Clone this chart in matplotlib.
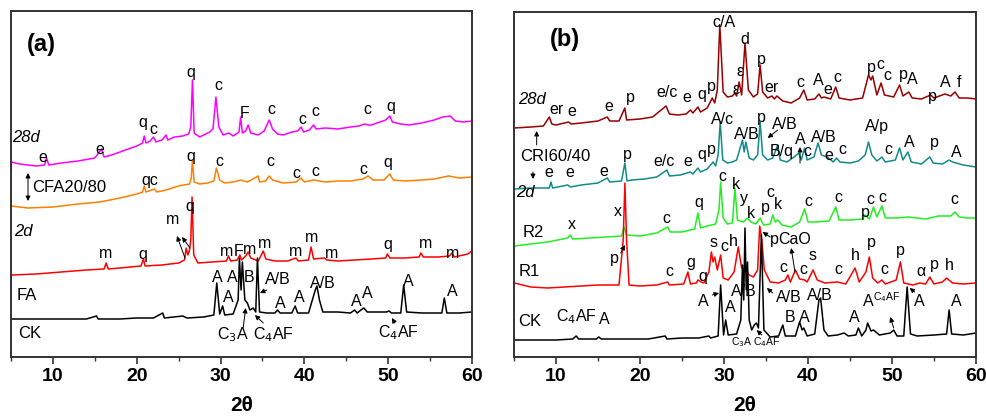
import matplotlib.pyplot as plt
from matplotlib.ticker import MultipleLocator

plt.rcParams['font.family'] = ['Liberation Sans', 'DejaVu Sans']

# ---------------- panel (a) patterns: 2theta / intensity (a.u., stacked) ----------------
tt_28d = [5.0, 5.05, 6, 7, 8, 9, 9.25, 9.5, 11, 13, 15, 15.8, 16.1, 17, 18, 19, 20, 20.7, 20.9, 21.1,
          21.6, 22.0, 22.3, 23, 23.5, 23.7, 24.5, 25.5, 26.2, 26.45, 26.65, 26.85, 27.5, 28, 28.7, 29.1,
          29.45, 29.8, 30.3, 31, 31.5, 32.2, 32.4, 32.6, 33.0, 33.3, 33.6, 34.5, 35.2, 35.8, 36.2, 36.8,
          37.5, 38.5, 39.2, 39.6, 39.9, 40.6, 41.1, 41.4, 42.5, 44, 45.5, 46.5, 47.2, 47.6, 48, 49, 49.7,
          50.2, 50.5, 51.5, 52.5, 54, 55.5, 56.5, 57.4, 58, 59, 60]
int_28d = [175, 198, 196, 195, 194, 195, 202, 195, 197, 199, 202, 211, 203, 205, 208, 211, 214, 217, 224, 217,
           219, 223, 218, 220, 225, 220, 223, 224, 226, 233, 280, 227, 223, 225, 228, 231,
           263, 233, 225, 227, 224, 228, 243, 227, 229, 235, 227, 225, 229, 240, 231, 226,
           225, 228, 229, 233, 228, 230, 235, 231, 232, 231, 233, 234, 236, 235, 235, 238, 240,
           244, 238, 236, 235, 237, 240, 243, 244, 239, 238, 239]

tt_cfa = [5.0, 5.05, 7, 10, 13, 15.6, 18, 20, 20.7, 20.9, 21.1, 22.1, 22.4, 23.5, 25, 26.3, 26.5, 26.65,
          26.85, 27.5, 28.5, 29.2, 29.5, 29.9, 30.5, 31.5, 32.4, 33.2, 34.5, 34.65, 35.4, 35.8, 36.2,
          37.5, 39.0, 39.6, 40.0, 41.1, 42.5, 44, 45.5, 47.0, 47.6, 48.2, 49.5, 50.2, 50.6, 52, 54,
          55.5, 57.2, 58.5, 60]
int_cfa = [146, 154, 152, 153, 156, 158, 162, 166, 168, 174, 168, 171, 168, 170, 174, 176, 182, 200,
           178, 176, 177, 179, 192, 180, 177, 178, 180, 178, 184, 178, 179, 184, 180,
           177, 178, 182, 178, 180, 178, 179, 179, 181, 184, 180, 180, 186, 180, 179, 180,
           181, 184, 182, 183]

tt_2d = [5.0, 5.05, 8, 11, 14, 16.1, 16.35, 16.6, 18, 20.5, 20.8, 21.0, 23, 25, 25.7, 25.9, 26.1, 26.3,
         26.45, 26.6, 26.8, 27.3, 29, 30.7, 30.95, 31.2, 32.0, 32.3, 32.5, 33.0, 33.3, 33.6, 34.5, 35.1,
         35.4, 36.5, 38, 39.0, 39.3, 40.5, 40.8, 41.1, 42.4, 42.7, 44, 46, 48, 49.7, 49.9, 50.2, 52,
         53.7, 53.9, 54.2, 56, 57.3, 57.6, 57.9, 59.5, 60]
int_2d = [77, 85, 86, 88, 90, 91, 97, 91, 92, 94, 101, 94, 95, 97, 100, 112, 105, 110,
          120, 163, 105, 97, 98, 99, 104, 99, 100, 105, 100, 104, 108, 102, 99, 109,
          101, 99, 99, 102, 99, 100, 113, 101, 102, 100, 99, 100, 101, 102, 106, 102, 102,
          103, 107, 103, 103, 104, 107, 103, 106, 109]

tt_fa = [5.0, 10, 14, 15.2, 15.4, 18, 20, 22, 23.1, 23.3, 25.5, 26, 28, 29.2, 29.55, 29.9, 30.25, 30.5,
         31.5, 32.1, 32.25, 32.45, 32.6, 32.9, 33.2, 33.5, 33.9, 34.2, 34.4, 34.65, 35.5, 36.5, 36.8,
         37.1, 38.5, 38.9, 39.2, 40.5, 41.3, 41.5, 41.8, 42.2, 44, 45.5, 46.0, 46.3, 46.9, 47.1, 47.5,
         49.8, 50.1, 50.4, 51.5, 51.85, 52.2, 54, 56.4, 56.7, 57.0, 58.5, 60]
int_fa = [41, 41, 41, 44, 41, 41, 42, 42, 47, 42, 44, 42, 43, 45, 77, 46, 54, 45,
          46, 60, 102, 70, 98, 60, 57, 50, 52, 48, 102, 48, 47, 47, 50,
          47, 47, 54, 47, 47, 70, 74, 60, 48, 48, 47, 50, 47, 51, 52, 48,
          48, 49, 47, 47, 75, 48, 47, 47, 62, 47, 47, 48]

# ---------------- panel (b) patterns ----------------
tt_b28 = [5.0, 7, 8.5, 9.2, 9.5, 10, 11.5, 11.8, 13, 15, 16.1, 16.4, 17.5, 18.2, 18.4, 20, 21.5, 23.1,
          23.5, 24.5, 25.5, 26.0, 26.3, 26.9, 27.2, 28.0, 28.6, 28.9, 29.2, 29.5, 29.9, 30.4, 31.0,
          31.3, 31.5, 31.8, 32.1, 32.5, 32.9, 33.5, 34.0, 34.3, 34.6, 35.2, 35.7, 36.0, 36.3, 37, 38,
          39.0, 39.5, 39.9, 40.8, 41.3, 41.6, 41.9, 42.7, 43.3, 43.7, 45, 46.5, 47.2, 47.5, 47.7, 48.2,
          48.7, 49.1, 50.2, 50.9, 51.3, 52.0, 52.4, 53.5, 54.6, 55, 56.3, 57.0, 57.5, 58, 59, 60]
int_b28 = [232, 233, 234, 243, 236, 235, 238, 236, 237, 239, 243, 239, 239, 252, 240, 241, 243, 254,
           246, 245, 246, 250, 247, 253, 248, 252, 262, 257, 270, 335, 268, 263, 264,
           267, 264, 278, 265, 317, 270, 263, 266, 295, 268, 262, 264, 261, 264, 259, 257,
           262, 270, 260, 261, 266, 262, 263, 261, 273, 262, 260, 262, 285, 280, 284, 265,
           277, 265, 263, 275, 264, 268, 262, 261, 265, 262, 266, 264, 268, 262, 262, 261]

tt_cri = [5.0, 5.05, 7, 9.2, 9.4, 9.6, 11.4, 11.7, 13, 15, 16.1, 16.4, 17.8, 18.2, 18.45, 19, 20.5, 22,
          23.2, 23.5, 24.8, 26.0, 26.3, 26.9, 27.2, 28.0, 28.7, 29.0, 29.3, 29.55, 29.85, 30.4, 31.0,
          31.5, 32.2, 32.4, 32.6, 33.0, 33.5, 34.0, 34.3, 34.6, 35.2, 35.8, 36.4, 36.7, 37.5, 38.5,
          38.9, 39.2, 39.6, 39.9, 40.7, 41.2, 41.6, 42.3, 43.0, 43.4, 43.8, 45, 46, 46.8, 47.2, 47.6,
          48.2, 48.8, 49.2, 50.4, 50.9, 51.3, 51.9, 52.3, 53.5, 54.5, 54.9, 56, 56.8, 57.2, 58.5, 60]
int_cri = [164, 171, 172, 172, 178, 172, 175, 173, 175, 177, 182, 178, 179, 197, 179, 180, 181, 183,
           190, 184, 185, 188, 186, 192, 188, 191, 198, 194, 205, 238, 200, 197, 198,
           200, 220, 208, 218, 202, 200, 205, 238, 205, 200, 202, 215, 200, 198, 204,
           207, 200, 212, 200, 203, 217, 205, 203, 198, 202, 198, 197, 199, 205, 218, 205,
           199, 203, 198, 200, 212, 200, 208, 198, 196, 203, 197, 196, 200, 198, 195, 193]

tt_r2 = [5.0, 5.05, 7, 9, 11.4, 11.7, 12.0, 14, 16, 17.8, 18.1, 18.4, 20, 22, 23.3, 23.6, 25, 26.5, 26.9,
         27.2, 28, 29, 29.4, 29.6, 29.9, 30.4, 31.0, 31.3, 31.6, 32.3, 32.8, 33.2, 33.8, 34.3, 34.7,
         35.5, 35.8, 36.1, 36.4, 36.9, 38, 39.0, 39.6, 40.0, 41, 42.5, 43.3, 43.7, 45, 46.5, 46.8, 47.3,
         47.8, 48.2, 48.8, 49.2, 50.5, 52, 54, 55.5, 57.0, 57.5, 58, 59, 60]
int_r2 = [108, 114, 116, 118, 122, 125, 121, 122, 123, 124, 133, 125, 124, 127, 133, 128, 128, 131, 147,
          132, 134, 136, 150, 178, 142, 136, 137, 172, 140, 138, 142, 138, 136, 142, 135,
          136, 145, 138, 140, 135, 133, 138, 151, 138, 138, 139, 153, 140, 140, 141, 145, 141,
          153, 143, 154, 142, 142, 143, 141, 144, 144, 148, 143, 142, 142]

tt_r1 = [5.0, 5.05, 7, 9, 11, 13, 15, 17.5, 18.0, 18.2, 18.4, 18.7, 20, 22, 23.3, 23.5, 25.2, 25.7, 26.0,
         26.7, 26.9, 27.3, 27.6, 28.2, 28.5, 28.7, 28.9, 29.2, 29.6, 29.9, 30.5, 31.2, 31.7, 32.1, 32.5,
         33.0, 33.5, 34.0, 34.25, 34.5, 34.8, 35.5, 36.5, 37.3, 37.6, 37.9, 38.5, 39.0, 39.6, 39.9,
         40.6, 41.1, 42, 43.5, 44.5, 45.6, 46.1, 46.9, 47.3, 47.7, 48.3, 48.8, 49.2, 50.5, 51.0, 51.4,
         52.5, 53.3, 54.0, 54.5, 55.0, 56.0, 56.5, 57.2, 58.5, 60]
int_r1 = [68, 77, 73, 72, 73, 74, 75, 75, 120, 177, 120, 75, 74, 75, 78, 75, 76, 88, 76,
          77, 80, 78, 77, 88, 108, 98, 103, 90, 105, 82, 80, 88, 113, 92, 90,
          85, 83, 90, 134, 120, 90, 78, 77, 80, 85, 78, 90, 81, 80, 78,
          90, 80, 77, 78, 76, 92, 78, 88, 103, 82, 77, 80, 76, 80, 98, 77,
          75, 77, 76, 83, 76, 78, 82, 77, 76, 77]

tt_ck = [5.0, 5.05, 8, 10, 12.0, 12.4, 12.7, 14.8, 15.1, 15.4, 18, 21, 23.0, 23.2, 25, 27, 28.2, 28.4,
         29.3, 29.6, 29.95, 30.2, 30.5, 31.5, 32.0, 32.2, 32.35, 32.5, 32.65, 32.8, 33.0, 33.3, 33.6,
         33.85, 34.1, 34.45, 34.75, 35.5, 36.5, 37.0, 37.3, 38.5, 39.0, 39.3, 39.5, 39.9, 40.8, 41.3,
         41.5, 41.9, 42.4, 43.5, 44.3, 44.8, 45.7, 46.0, 46.4, 46.9, 47.1, 47.5, 47.8, 48.5, 49.8,
         50.2, 50.6, 51.4, 51.8, 52.2, 53, 55, 56.5, 56.8, 57.1, 58.5, 60]
int_ck = [28, 20, 20, 20, 21, 24, 21, 21, 23, 21, 21, 21, 24, 21, 22, 22, 24, 22,
          24, 75, 25, 40, 25, 26, 40, 95, 60, 132, 70, 98, 40, 30, 35,
          37, 32, 125, 30, 23, 24, 35, 24, 24, 38, 30, 32, 24, 26, 60,
          62, 30, 24, 25, 27, 24, 25, 32, 24, 30, 37, 29, 30, 25, 27,
          30, 24, 24, 73, 26, 24, 25, 26, 50, 26, 25, 27]

# ---------------- peak / phase labels (text, 2theta, intensity) ----------------
labels_a = [
    ('q', 20.75, 238), ('c', 21.94, 230), ('q', 26.47, 287), ('c', 29.7, 274), ('F', 32.9, 247),
    ('c', 36.1, 250), ('c', 39.8, 240), ('c', 41.3, 248), ('c', 47.5, 250), ('q', 50.3, 253),
    ('e', 8.8, 202), ('e', 15.6, 211),
    ('qc', 21.6, 180), ('q', 26.5, 203), ('c', 29.9, 198), ('c', 35.9, 198), ('c', 39.1, 187),
    ('c', 41.3, 188), ('c', 47.0, 190), ('q', 49.9, 197),
    ('m', 16.3, 107), ('q', 20.75, 106), ('m', 24.3, 141), ('q', 26.36, 153), ('m', 30.7, 108),
    ('F', 32.1, 108), ('m', 33.5, 111), ('m', 35.3, 116), ('m', 38.9, 108), ('m', 40.9, 123),
    ('m', 43.2, 107), ('q', 50.0, 115), ('m', 54.4, 117), ('m', 57.7, 107),
    ('A', 29.6, 82), ('A', 31.4, 82), ('B', 33.4, 82), ('A', 30.9, 62), ('A/B', 36.85, 81),
    ('A', 37.1, 57), ('A', 39.4, 62), ('A/B', 42.2, 77), ('A', 46.2, 58), ('A', 47.5, 66),
    ('A', 52.4, 78), ('A', 57.6, 68),
    ('C$_3$A', 31.5, 25), ('C$_4$AF', 36.3, 25), ('C$_4$AF', 51.2, 27),
]
arrows_a = [((25.76, 102), (24.8, 124)), ((26.36, 112), (25.4, 123)),
            ((32.7, 32), (33.0, 52)), ((35.1, 37), (34.1, 45)),
            ((35.5, 70), (34.7, 67)), ((50.8, 37), (50.45, 42))]

labels_b = [
    ('c/A', 30.0, 337), ('d', 32.5, 320), ('p', 34.5, 300), ('ε', 31.9, 288), ('ε', 31.4, 270),
    ('er', 10.1, 250), ('e', 11.9, 248), ('e', 16.3, 253), ('p', 18.8, 262), ('e/c', 23.2, 267),
    ('e', 25.6, 262), ('q', 27.4, 265), ('p', 28.45, 273), ('er', 35.7, 272), ('c', 39.05, 277),
    ('A', 41.2, 279), ('e', 42.3, 270), ('c', 43.45, 282), ('p', 47.5, 292), ('c', 48.6, 295),
    ('c', 49.4, 284), ('p', 51.4, 285), ('A', 52.4, 280), ('p', 54.8, 263), ('A', 56.3, 277),
    ('f', 58.0, 277),
    ('A/c', 29.8, 240), ('p', 34.5, 242), ('A/B', 32.7, 225), ('A/B', 37.3, 235), ('B/q', 36.9, 208),
    ('A', 39.05, 220), ('c', 39.9, 208), ('A/B', 41.9, 222), ('e', 42.5, 204), ('c', 44.05, 210),
    ('A/p', 48.2, 233), ('c', 49.6, 210), ('A', 52.1, 217), ('p', 55.1, 217), ('A', 57.7, 207),
    ('e', 9.2, 187), ('e', 11.7, 187), ('e', 15.7, 188), ('p', 18.45, 205), ('e/c', 22.9, 198),
    ('e', 25.7, 198), ('q', 27.3, 205), ('p', 28.45, 210),
    ('c', 29.8, 183), ('k', 31.4, 175), ('y', 32.4, 161), ('k', 33.2, 146), ('p', 34.9, 152),
    ('c', 35.5, 167), ('k', 36.4, 155), ('x', 11.9, 135), ('x', 17.4, 148), ('c', 23.1, 141),
    ('q', 27.0, 157), ('c', 40.1, 158), ('c', 43.6, 162), ('p', 46.8, 147), ('c', 47.4, 160),
    ('c', 48.9, 162), ('c', 57.4, 160),
    ('p', 16.9, 102), ('s', 28.8, 117), ('c', 30.0, 113), ('h', 31.1, 118), ('p', 36.0, 120),
    ('CaO', 38.45, 120), ('g', 26.0, 98), ('q', 27.5, 84), ('c', 23.45, 88), ('c', 37.1, 92),
    ('c', 39.5, 90), ('s', 40.5, 105), ('c', 43.6, 90), ('h', 45.6, 105), ('p', 47.5, 117),
    ('c', 49.05, 91), ('p', 51.0, 110), ('α', 53.45, 88), ('p', 55.0, 95), ('h', 56.8, 95),
    ('A', 27.5, 58), ('A', 30.7, 52), ('A/B', 32.4, 68), ('A/B', 37.7, 62), ('B', 37.9, 43),
    ('A', 39.6, 42), ('A/B', 41.4, 65), ('A', 45.5, 43), ('A', 47.2, 58), ('A', 53.2, 58),
    ('A', 57.7, 58), ('C$_4$AF', 12.4, 43), ('A', 15.8, 40),
]
small_labels_b = [('C$_4$AF', 49.4, 63), ('C$_3$A', 32.1, 18), ('C$_4$AF', 35.1, 18)]
arrows_b = [((36.4, 230), (35.2, 222)), ((39.05, 197), (39.05, 213)), ((7.7, 215), (7.7, 229)),
            ((7.26, 188), (7.26, 181)), ((17.7, 107), (18.2, 115)), ((35.5, 123), (34.6, 128)),
            ((38.45, 88), (38.0, 112)), ((28.6, 65), (29.4, 67)), ((35.8, 67), (35.1, 72)),
            ((50.2, 32), (49.8, 43)), ((52.7, 68), (52.1, 72)), ((34.5, 25), (33.9, 30))]


def style_axis(ax, ylim):
    ax.set_xlim(5, 60)
    ax.set_ylim(*ylim)
    ax.set_yticks([])
    ax.xaxis.set_major_locator(MultipleLocator(10))
    ax.xaxis.set_minor_locator(MultipleLocator(5))
    ax.tick_params(axis='x', which='major', direction='out', length=5, width=1.2, labelsize=14,
                   pad=3, colors='#333333', labelcolor='black')
    ax.tick_params(axis='x', which='minor', direction='out', length=3, width=1.0, colors='#333333')
    for lab in ax.get_xticklabels():
        lab.set_fontweight('bold')
    for sp in ax.spines.values():
        sp.set_color('#333333')
        sp.set_linewidth(1.4)
    ax.set_xlabel('2θ', fontsize=15, fontweight='bold', labelpad=8)


def put_arrow(ax, tail, head):
    ax.annotate('', xy=head, xytext=tail,
                arrowprops=dict(arrowstyle='-|>', color='black', lw=0.7, mutation_scale=7,
                                shrinkA=0, shrinkB=0))


fig = plt.figure(figsize=(9.87, 4.16), dpi=100)
ax1 = fig.add_axes([11 / 987, 59 / 416, 461 / 987, 346 / 416])
ax2 = fig.add_axes([514 / 987, 59 / 416, 462 / 987, 345 / 416])

# panel (a)
ax1.plot(tt_28d, int_28d, color='#ff00ff', lw=1.1)
ax1.plot(tt_cfa, int_cfa, color='#ff7f00', lw=1.1)
ax1.plot(tt_2d, int_2d, color='#ff0000', lw=1.1)
ax1.plot(tt_fa, int_fa, color='black', lw=1.1)
style_axis(ax1, (3, 349))
ax1.text(6.9, 315, '(a)', fontsize=17, fontweight='bold', va='center')
ax1.text(5.1, 222, '28d', fontsize=12, style='italic', va='center')
ax1.text(7.5, 172, 'CFA20/80', fontsize=12, va='center')
ax1.text(5.4, 128, '2d', fontsize=12, style='italic', va='center')
ax1.text(5.7, 64, 'FA', fontsize=12, va='center')
ax1.text(5.8, 27, 'CK', fontsize=12, va='center')
ax1.annotate('', xy=(7.03, 159), xytext=(7.03, 187),
             arrowprops=dict(arrowstyle='<|-|>', color='black', lw=0.7, mutation_scale=7,
                             shrinkA=0, shrinkB=0))
for txt, x, y in labels_a:
    ax1.text(x, y, txt, fontsize=11.5, ha='center', va='center')
for tail, head in arrows_a:
    put_arrow(ax1, tail, head)

# panel (b)
ax2.plot(tt_b28, int_b28, color='#990000', lw=1.1)
ax2.plot(tt_cri, int_cri, color='#138a8a', lw=1.1)
ax2.plot(tt_r2, int_r2, color='#22ee22', lw=1.1)
ax2.plot(tt_r1, int_r1, color='#ff0000', lw=1.1)
ax2.plot(tt_ck, int_ck, color='black', lw=1.1)
style_axis(ax2, (3, 348))
ax2.text(9.3, 320, '(b)', fontsize=17, fontweight='bold', va='center')
ax2.text(5.5, 260, '28d', fontsize=12, style='italic', va='center')
ax2.text(5.7, 203, 'CRI60/40', fontsize=12, va='center')
ax2.text(5.2, 167, '2d', fontsize=12, style='italic', va='center')
ax2.text(6.0, 127, 'R2', fontsize=12, va='center')
ax2.text(5.5, 88, 'R1', fontsize=12, va='center')
ax2.text(5.5, 38, 'CK', fontsize=12, va='center')
for txt, x, y in labels_b:
    ax2.text(x, y, txt, fontsize=11.5, ha='center', va='center')
for txt, x, y in small_labels_b:
    ax2.text(x, y, txt, fontsize=7.5, ha='center', va='center')
for tail, head in arrows_b:
    put_arrow(ax2, tail, head)

fig.savefig('out.png', dpi=100, facecolor='white')
